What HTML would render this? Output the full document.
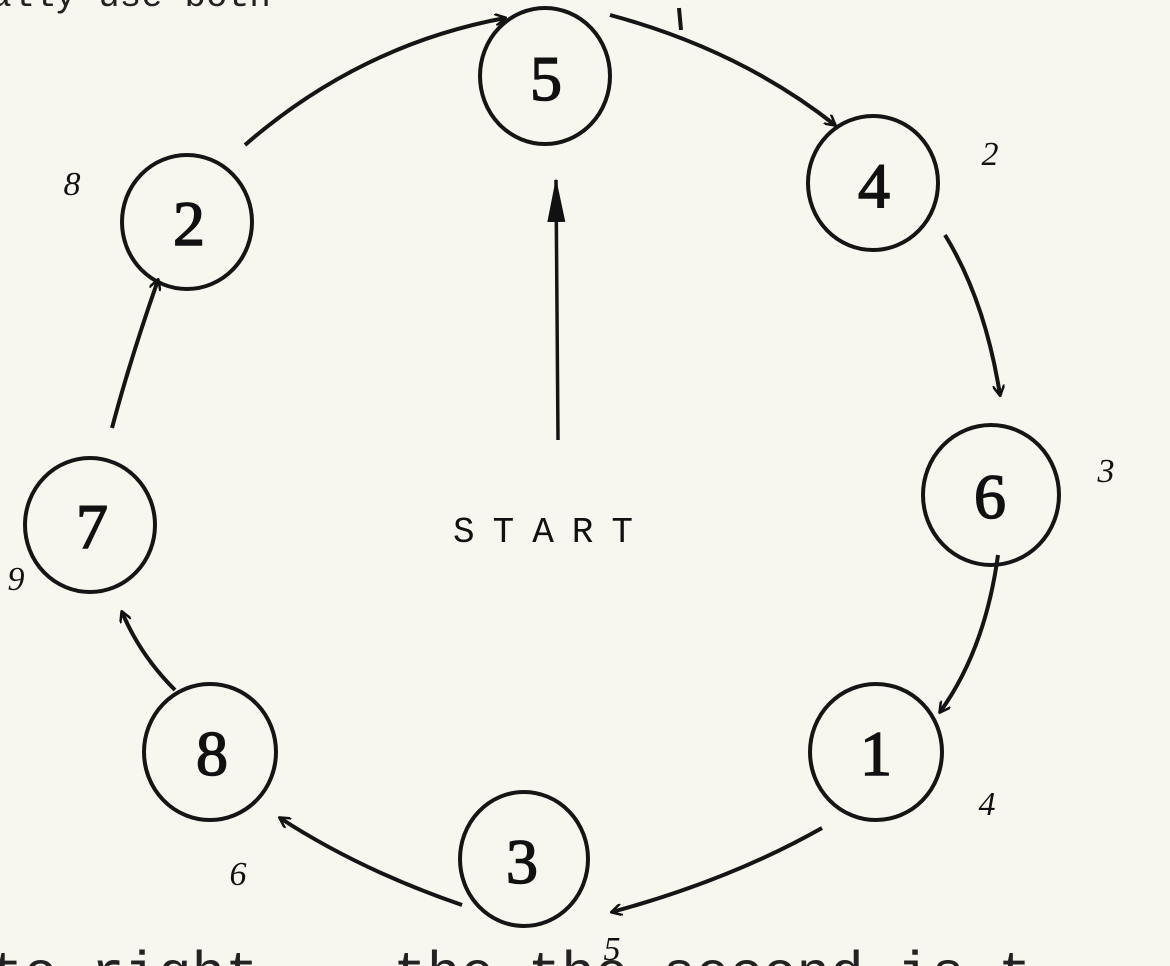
<!DOCTYPE html>
<html><head><style>
html,body{margin:0;padding:0;background:#f7f6ef;}
svg{display:block;}
</style></head><body>
<svg width="1170" height="966" viewBox="0 0 1170 966" xmlns="http://www.w3.org/2000/svg">
<rect width="1170" height="966" fill="#f7f6ef"/>
<defs><marker id="a" markerWidth="12" markerHeight="12" refX="10" refY="6" orient="auto" markerUnits="userSpaceOnUse" viewBox="0 0 12 12">
<path d="M0,0 L11,6 L0,12" fill="none" stroke="#111" stroke-width="2.5"/></marker>
<marker id="b" markerWidth="44" markerHeight="20" refX="42" refY="10" orient="auto" markerUnits="userSpaceOnUse" viewBox="0 0 44 20">
<path d="M44,10 L0,1 L0,19 Z" fill="#111"/></marker></defs>
<g fill="none" stroke="#151515" stroke-width="4">
<ellipse cx="545" cy="76" rx="65" ry="68"/>
<ellipse cx="873" cy="183" rx="65" ry="67"/>
<ellipse cx="991" cy="495" rx="68" ry="70"/>
<ellipse cx="876" cy="752" rx="66" ry="68"/>
<ellipse cx="524" cy="859" rx="64" ry="67"/>
<ellipse cx="210" cy="752" rx="66" ry="68"/>
<ellipse cx="90" cy="525" rx="65" ry="67"/>
<ellipse cx="187" cy="222" rx="65" ry="67"/>
<path d="M245,145 Q360,45 505,18" marker-end="url(#a)"/>
<path d="M610,15 Q740,50 835,125" marker-end="url(#a)"/>
<path d="M679,8 L681,30"/>
<path d="M945,235 Q985,300 1000,395" marker-end="url(#a)"/>
<path d="M998,555 Q985,650 940,712" marker-end="url(#a)"/>
<path d="M822,828 Q730,880 612,912" marker-end="url(#a)"/>
<path d="M462,905 Q360,870 280,818" marker-end="url(#a)"/>
<path d="M175,690 Q140,655 122,612" marker-end="url(#a)"/>
<path d="M112,428 Q130,360 158,280" marker-end="url(#a)"/>
<path d="M558,440 L556,180" marker-end="url(#b)" stroke-width="3.5"/>
</g>
<g font-family="Liberation Serif, serif" font-size="64" fill="#111" text-anchor="middle" stroke="#111" stroke-width="1.5">
<text x="546" y="100">5</text>
<text x="874" y="207">4</text>
<text x="990" y="518">6</text>
<text x="876" y="775">1</text>
<text x="522" y="883">3</text>
<text x="212" y="775">8</text>
<text x="92" y="548">7</text>
<text x="189" y="245">2</text>
</g>
<g font-family="Liberation Serif, serif" font-size="34" fill="#111" text-anchor="middle" font-style="italic">
<text x="990" y="165">2</text>
<text x="1106" y="482">3</text>
<text x="987" y="815">4</text>
<text x="612" y="960">5</text>
<text x="238" y="885">6</text>
<text x="16" y="590">9</text>
<text x="72" y="195">8</text>
</g>
<text x="552" y="542" font-family="Liberation Mono, monospace" font-size="36" fill="#111" text-anchor="middle" letter-spacing="18">START</text>
<text x="-10" y="6" font-family="Liberation Mono, monospace" font-size="36" fill="#222">ally use both</text>
<text x="-10" y="990" font-family="Liberation Mono, monospace" font-size="56" fill="#222">to right -- the  the second is t</text>
</svg>
</body></html>
